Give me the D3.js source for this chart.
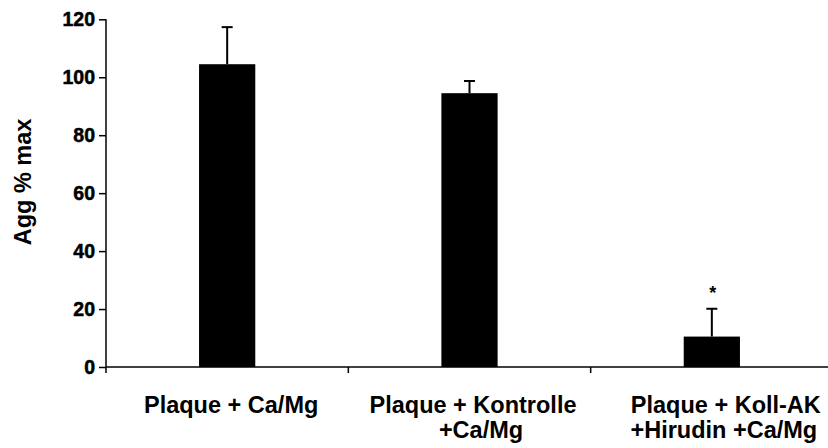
<!DOCTYPE html>
<html><head><meta charset="utf-8">
<script src="https://cdn.jsdelivr.net/npm/d3@7/dist/d3.min.js"></script>
<style>
body{margin:0;background:#fff;}
text{font-family:"Liberation Sans",Arial,sans-serif;font-weight:bold;fill:#000;}
.ytick text{font-weight:700 !important;font-family:"Liberation Sans",Arial,sans-serif !important;}
</style></head>
<body><svg id="c" width="828" height="448"></svg>
<script>
const categories = ["Plaque + Ca/Mg", "Plaque + Kontrolle +Ca/Mg", "Plaque + Koll-AK +Hirudin +Ca/Mg"];
const labelLines = [["Plaque + Ca/Mg"], ["Plaque + Kontrolle", "+Ca/Mg"], ["Plaque + Koll-AK", "+Hirudin +Ca/Mg"]];
const values = [104.5, 94.5, 10.5];
const errors = [12.8, 4.2, 9.6];
const significance = ["", "", "*"];
const yTicks = [0, 20, 40, 60, 80, 100, 120];
const yTitle = "Agg % max";

const svg = d3.select("#c");
const x = d3.scaleBand().domain(categories).range([106, 833]).padding(0);
const y = d3.scaleLinear().domain([0, 120]).range([367, 19.3]);
const barW = x.bandwidth() * 0.232;

// bars
svg.selectAll("rect.bar").data(categories).enter().append("rect")
  .attr("x", d => x(d) + x.bandwidth()/2 - barW/2)
  .attr("y", (d,i) => y(values[i]))
  .attr("width", barW)
  .attr("height", (d,i) => y(0) - y(values[i]))
  .attr("fill", "#000");

// error bars
const eb = svg.selectAll("g.err").data(categories).enter().append("g");
eb.append("line")
  .attr("x1", d => x(d) + x.bandwidth()/2).attr("x2", d => x(d) + x.bandwidth()/2)
  .attr("y1", (d,i) => y(values[i])).attr("y2", (d,i) => y(values[i] + errors[i]))
  .attr("stroke", "#000").attr("stroke-width", 2);
eb.append("line")
  .attr("x1", d => x(d) + x.bandwidth()/2 - 5.5).attr("x2", d => x(d) + x.bandwidth()/2 + 5.5)
  .attr("y1", (d,i) => y(values[i] + errors[i])).attr("y2", (d,i) => y(values[i] + errors[i]))
  .attr("stroke", "#000").attr("stroke-width", 2);

// significance markers
svg.selectAll("text.sig").data(categories).enter().append("text")
  .attr("x", d => x(d) + x.bandwidth()/2 + 1)
  .attr("y", (d,i) => y(values[i] + errors[i]) - 10)
  .attr("text-anchor", "middle").attr("font-size", 18)
  .text((d,i) => significance[i]);

// y axis
const yAxis = svg.append("g").attr("class", "ytick").attr("transform", "translate(106,0)")
  .call(d3.axisLeft(y).tickValues(yTicks).tickSize(7).tickPadding(4).tickFormat(d3.format("d")));
yAxis.attr("font-family", null).attr("font-size", null);
yAxis.selectAll("path,line").attr("stroke", "#000").attr("stroke-width", 1.5);
yAxis.selectAll("text")
  .attr("font-size", 19.5)
  .attr("fill", "#000")
  .attr("stroke", "#000").attr("stroke-width", 0.5);
yAxis.select("path").attr("d", `M0,${y(120)}V${y(0)}`);

// x axis
const xAxis = svg.append("g").attr("transform", `translate(0,${y(0)})`);
xAxis.append("line").attr("x1", 106).attr("x2", 833).attr("y1", 0).attr("y2", 0)
  .attr("stroke", "#000").attr("stroke-width", 1.5);
const bounds = categories.map(d => x(d)).concat([x.range()[1]]);
xAxis.selectAll("line.tk").data(bounds).enter().append("line")
  .attr("x1", d => d).attr("x2", d => d).attr("y1", 0).attr("y2", 6)
  .attr("stroke", "#000").attr("stroke-width", 1.5);

// x labels
const lineShift = [[4], [3.5, 11.5], [14, 12]];
categories.forEach((c, i) => {
  labelLines[i].forEach((ln, j) => {
    svg.append("text")
      .attr("x", x(c) + x.bandwidth()/2 + lineShift[i][j])
      .attr("y", 413 + j * 25)
      .attr("text-anchor", "middle").attr("font-size", 23.5)
      .text(ln);
  });
});

// y title
svg.append("text")
  .attr("transform", "translate(31,182) rotate(-90)")
  .attr("text-anchor", "middle").attr("font-size", 23.5)
  .text(yTitle);
</script></body></html>
